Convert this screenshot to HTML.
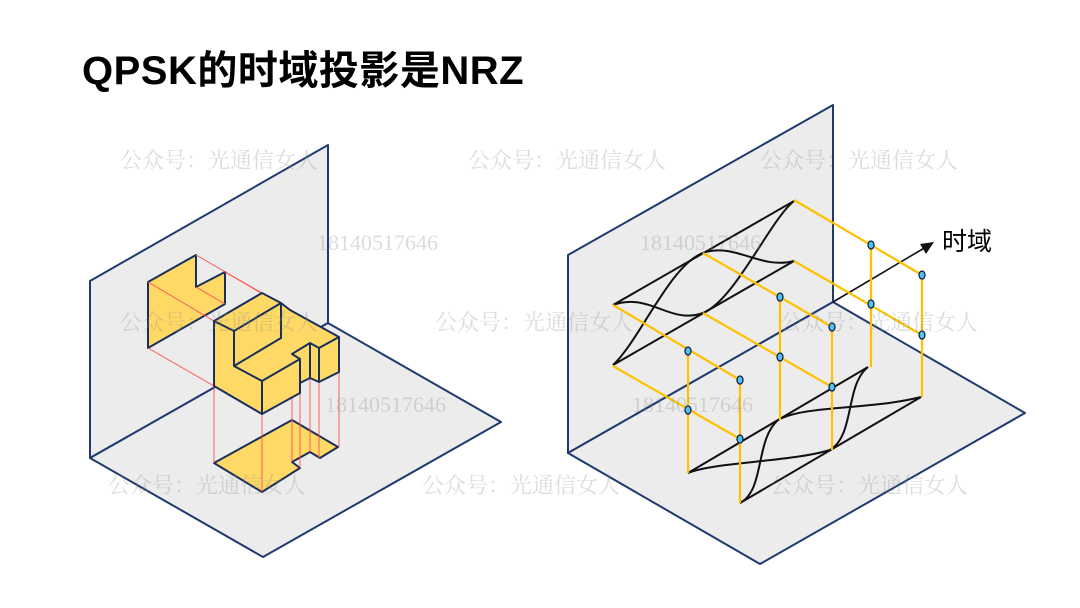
<!DOCTYPE html>
<html><head><meta charset="utf-8"><style>
html,body{margin:0;padding:0;background:#fff;}
svg{display:block;}
</style></head><body>
<svg width="1080" height="608" viewBox="0 0 1080 608" xmlns="http://www.w3.org/2000/svg">
<rect width="1080" height="608" fill="#fff"/>
<text x="82" y="84" font-family="Liberation Sans, Noto Sans CJK SC, sans-serif" font-weight="bold" font-size="40" letter-spacing="0.5" fill="#000">QPSK的时域投影是NRZ</text>

<!-- LEFT FIGURE -->
<g stroke="#1f3a6e" stroke-width="2" stroke-linejoin="round">
<polygon points="90,281 328,145 328,323 90,458" fill="#ececec"/>
<polygon points="90,458 328,323 501,422 263,557" fill="#ececec"/>
</g>
<polygon points="148,282 196,255 196,287 225,272 225,304 148,348" fill="#ffd966" stroke="#1a2f5a" stroke-width="2" stroke-linejoin="round"/>
<polygon points="214,463 292,420 338,447 320,458 310,452 292,462 300,468 262,492" fill="#ffd966" stroke="#1a2f5a" stroke-width="2" stroke-linejoin="round"/>
<g stroke="#ff5050" stroke-width="0.9" fill="none">
<line x1="148" y1="282" x2="214" y2="321"/>
<line x1="148" y1="348" x2="214" y2="386"/>
<line x1="196" y1="255" x2="262" y2="293"/>
<line x1="225" y1="272" x2="290" y2="310"/>
<line x1="196" y1="287" x2="225" y2="304"/>
<line x1="214" y1="386" x2="214" y2="463"/>
<line x1="262" y1="414" x2="262" y2="492"/>
<line x1="292" y1="398" x2="292" y2="462"/>
<line x1="300" y1="393" x2="300" y2="468"/>
<line x1="310" y1="378" x2="310" y2="452"/>
<line x1="319" y1="382" x2="319" y2="458"/>
<line x1="339" y1="372" x2="339" y2="447"/>
</g>
<g fill="#ffd966" stroke="#1a2f5a" stroke-width="2" stroke-linejoin="round">
<polygon points="214,321 262,293 281,303 290,310 339,337 339,372 319,382 310,378 300,383 300,393 262,414 214,386"/>
<polyline fill="none" points="214,321 234,331 281,303"/>
<polyline fill="none" points="234,331 234,366 262,381 300,359 292,354 310,343 319,348 339,337"/>
<polyline fill="none" points="234,366 281,338 281,303"/>
<line x1="262" y1="381" x2="262" y2="414"/>
<polyline fill="none" points="300,359 300,393"/>
<polyline fill="none" points="310,343 310,378"/>
<polyline fill="none" points="319,348 319,382"/>
</g>

<!-- RIGHT FIGURE -->
<g stroke="#1f3a6e" stroke-width="2" stroke-linejoin="round">
<polygon points="568,255 833,105 833,302 568,453" fill="#ececec"/>
<polygon points="568,453 833,302 1025,413 760,564" fill="#ececec"/>
</g>
<g stroke="#111" stroke-width="2" fill="none">
<line x1="613" y1="305" x2="794" y2="201"/>
<line x1="613" y1="365" x2="794" y2="261"/>
<path d="M613,305 C650,292 670,325 703,313"/>
<path d="M703,253 C735,242 760,270 794,261"/>
<path d="M613,365 C640,340 670,265 703,253"/>
<path d="M703,313 C735,300 770,220 794,201"/>
<line x1="688" y1="473" x2="868" y2="367"/>
<line x1="740" y1="503" x2="921" y2="397"/>
<path d="M688,473 C715,462 790,462 830,450"/>
<path d="M778,420 C805,405 870,410 921,397"/>
<path d="M740,503 C765,490 755,440 778,420"/>
<path d="M830,450 C855,435 845,385 868,367"/>
</g>
<line x1="833" y1="302" x2="926" y2="247" stroke="#111" stroke-width="1.6"/>
<polygon points="934,242 920,244 926,254" fill="#111"/>
<text x="942" y="250" font-family="Liberation Sans, Noto Sans CJK SC, sans-serif" font-size="25" fill="#000">时域</text>
<g stroke="#ffc000" stroke-width="2.2" fill="none">
<line x1="794" y1="200" x2="922" y2="275"/>
<line x1="794" y1="261" x2="922" y2="335"/>
<line x1="703" y1="253" x2="832" y2="327"/>
<line x1="703" y1="313" x2="832" y2="387"/>
<line x1="613" y1="305" x2="740" y2="380"/>
<line x1="613" y1="366" x2="740" y2="439"/>
<line x1="871" y1="245" x2="871" y2="367"/>
<line x1="922" y1="275" x2="922" y2="397"/>
<line x1="780" y1="297" x2="780" y2="420"/>
<line x1="832" y1="327" x2="832" y2="450"/>
<line x1="688" y1="351" x2="688" y2="473"/>
<line x1="740" y1="380" x2="740" y2="503"/>
</g>
<g fill="#4fc3f7" stroke="#10203a" stroke-width="1.3">
<ellipse cx="871" cy="245" rx="3" ry="4"/>
<ellipse cx="922" cy="275" rx="3" ry="4"/>
<ellipse cx="871" cy="304" rx="3" ry="4"/>
<ellipse cx="922" cy="335" rx="3" ry="4"/>
<ellipse cx="780" cy="297" rx="3" ry="4"/>
<ellipse cx="832" cy="327" rx="3" ry="4"/>
<ellipse cx="780" cy="357" rx="3" ry="4"/>
<ellipse cx="832" cy="387" rx="3" ry="4"/>
<ellipse cx="688" cy="351" rx="3" ry="4"/>
<ellipse cx="740" cy="380" rx="3" ry="4"/>
<ellipse cx="688" cy="410" rx="3" ry="4"/>
<ellipse cx="740" cy="439" rx="3" ry="4"/>
</g>

<g font-family="Liberation Serif, Noto Serif CJK SC, serif" font-size="22" fill="rgba(140,140,140,0.3)">
<text x="120" y="168">公众号：光通信女人</text>
<text x="468" y="168">公众号：光通信女人</text>
<text x="760" y="168">公众号：光通信女人</text>
<text x="120" y="330">公众号：光通信女人</text>
<text x="435" y="330">公众号：光通信女人</text>
<text x="780" y="330">公众号：光通信女人</text>
<text x="108" y="493">公众号：光通信女人</text>
<text x="422" y="493">公众号：光通信女人</text>
<text x="770" y="493">公众号：光通信女人</text>
<text x="317" y="250">18140517646</text>
<text x="640" y="250">18140517646</text>
<text x="325" y="412">18140517646</text>
<text x="632" y="412">18140517646</text>
</g>
</svg>
</body></html>
